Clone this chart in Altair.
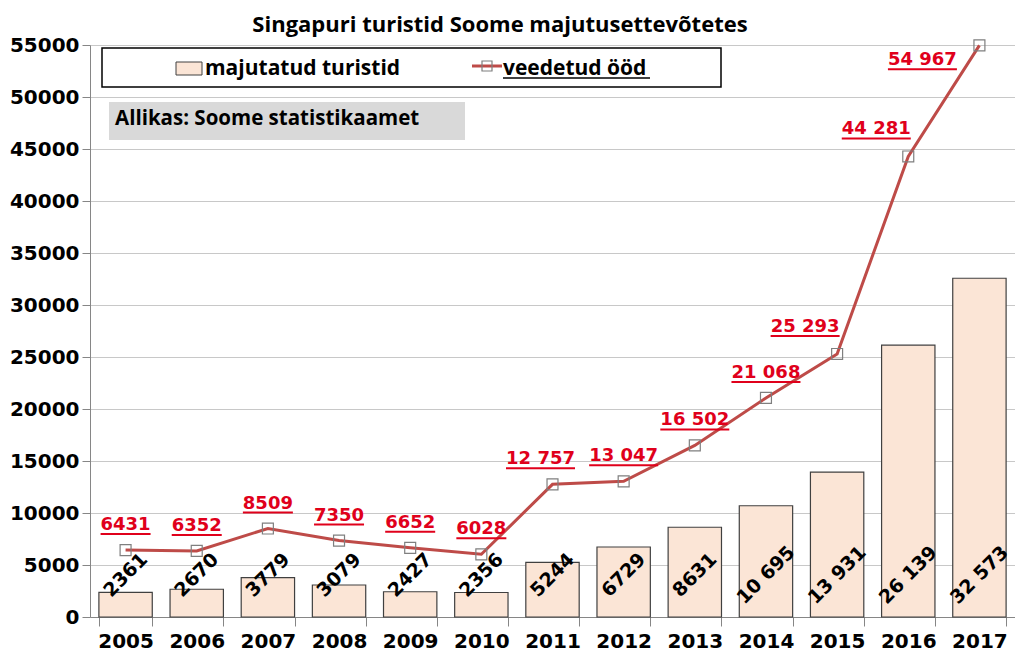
import altair as alt
import pandas as pd

years = ["2005", "2006", "2007", "2008", "2009", "2010", "2011",
         "2012", "2013", "2014", "2015", "2016", "2017"]
tourists = [2361, 2670, 3779, 3079, 2427, 2356, 5244, 6729, 8631, 10695, 13931, 26139, 32573]
nights = [6431, 6352, 8509, 7350, 6652, 6028, 12757, 13047, 16502, 21068, 25293, 44281, 54967]

title_text = "Singapuri turistid Soome majutusettevõtetes"
legend_bar = "majutatud turistid"
legend_line = "veedetud ööd"
source_text = "Allikas: Soome statistikaamet"


def fmt(v):
    return f"{v:,}".replace(",", " ") if v >= 10000 else str(v)


df = pd.DataFrame({
    "year": years,
    "tourists": tourists,
    "nights": nights,
    "t_lbl": [fmt(v) for v in tourists],
    "n_lbl": [fmt(v) for v in nights],
})

FONT = "DejaVu Sans"
TFONT = "Open Sans"
RED = "#e0001b"
LINE = "#be4b48"
PEACH = "#fbe5d6"
W, H = 925, 572

xenc = alt.X(
    "year:N", title=None,
    scale=alt.Scale(paddingInner=0.25, paddingOuter=0.125),
    axis=alt.Axis(labelAngle=0, labelFont=FONT, labelFontSize=20, labelFontWeight="bold",
                  labelColor="black", tickBand="extent", tickSize=9, tickColor="#868686",
                  domainColor="#868686", labelPadding=5, grid=False),
)
yscale = alt.Scale(domain=[0, 55000], nice=False)
yaxis = alt.Axis(values=list(range(0, 55001, 5000)), format="d", labelFont=FONT,
                 labelFontSize=20, labelFontWeight="bold", labelColor="black",
                 gridColor="#c8c8c8", tickColor="#868686", domainColor="#868686",
                 tickSize=8, labelPadding=3)

base = alt.Chart(df)

bars = base.mark_bar(fill=PEACH, stroke="#404040", strokeWidth=1.2).encode(
    x=xenc, y=alt.Y("tourists:Q", scale=yscale, axis=yaxis, title=None))
line = base.mark_line(color=LINE, strokeWidth=3).encode(
    x=xenc, y=alt.Y("nights:Q", title=None))
pts = base.mark_point(shape="square", size=120, filled=False, stroke="#7f7f7f",
                      strokeWidth=1.2, opacity=1).encode(x=xenc, y=alt.Y("nights:Q", title=None))
bar_lbl = base.mark_text(angle=315, font=FONT, fontSize=19, fontWeight="bold", color="black",
                         align="center", baseline="middle").encode(
    x=xenc, y=alt.value(530), text="t_lbl:N")


def nlabels(expr, dx, dy):
    b = base.transform_filter(expr)
    t = b.mark_text(dx=dx, dy=dy, font=FONT, fontSize=18, fontWeight="bold", color=RED,
                    align="center", baseline="alphabetic").encode(
        x=xenc, y=alt.Y("nights:Q", title=None), text="n_lbl:N")
    u = b.transform_calculate(w="datum.nights >= 10000 ? 69 : 50").mark_tick(
        color=RED, thickness=2, xOffset=dx, yOffset=dy + 4, orient="horizontal", opacity=1).encode(
        x=xenc, y=alt.Y("nights:Q", title=None), size=alt.Size("w:Q", scale=None))
    return [t, u]


lbls = []
lbls += nlabels("datum.year <= '2010' || datum.year == '2012' || datum.year == '2013' || datum.year == '2014'", 0, -20)
lbls += nlabels("datum.year == '2011'", -12, -20)
lbls += nlabels("datum.year == '2015' || datum.year == '2016'", -32, -22)
lbls += nlabels("datum.year == '2017'", -57, 20)

one = alt.Chart(pd.DataFrame({"k": [0]}))
title = one.mark_text(font=TFONT, fontSize=22, fontWeight="bold", color="black",
                      align="center", baseline="alphabetic").encode(
    x=alt.value(410), y=alt.value(-13), text=alt.value(title_text))
box = one.mark_rect(fill="white", stroke="black", strokeWidth=1.5).encode(
    x=alt.value(12), x2=alt.value(631), y=alt.value(3), y2=alt.value(42))
swatch = one.mark_rect(fill=PEACH, stroke="#404040", strokeWidth=1).encode(
    x=alt.value(86), x2=alt.value(112), y=alt.value(17), y2=alt.value(30))
t1 = one.mark_text(font=TFONT, fontSize=21, fontWeight="bold", color="black",
                   align="left", baseline="alphabetic").encode(
    x=alt.value(115), y=alt.value(30), text=alt.value(legend_bar))
lseg = one.mark_rule(color=LINE, strokeWidth=3).encode(
    x=alt.value(382), x2=alt.value(412), y=alt.value(21))
lpt = one.mark_point(shape="square", size=100, filled=False, stroke="#7f7f7f",
                     strokeWidth=1.2, opacity=1).encode(x=alt.value(397), y=alt.value(21))
t2 = one.mark_text(font=TFONT, fontSize=21, fontWeight="bold", color="black",
                   align="left", baseline="alphabetic").encode(
    x=alt.value(413), y=alt.value(30), text=alt.value(legend_line))
t2u = one.mark_rule(color="black", strokeWidth=1.5).encode(
    x=alt.value(413), x2=alt.value(560), y=alt.value(33))
src_box = one.mark_rect(fill="#d9d9d9").encode(
    x=alt.value(19), x2=alt.value(375), y=alt.value(57), y2=alt.value(95))
src = one.mark_text(font=TFONT, fontSize=20.5, fontWeight="bold", color="black",
                    align="left", baseline="alphabetic").encode(
    x=alt.value(25), y=alt.value(80), text=alt.value(source_text))

chart = alt.layer(
    bars, line, pts, bar_lbl, *lbls, title, box, swatch, t1, lseg, lpt, t2, t2u, src_box, src
).properties(
    width=W, height=H,
    autosize=alt.AutoSizeParams(type="none"),
    padding={"left": 82, "top": 37, "right": 0, "bottom": 44},
).configure_view(stroke=None).configure(background="white")

chart.save("out.html", embed_options={"renderer": "svg", "actions": False})
